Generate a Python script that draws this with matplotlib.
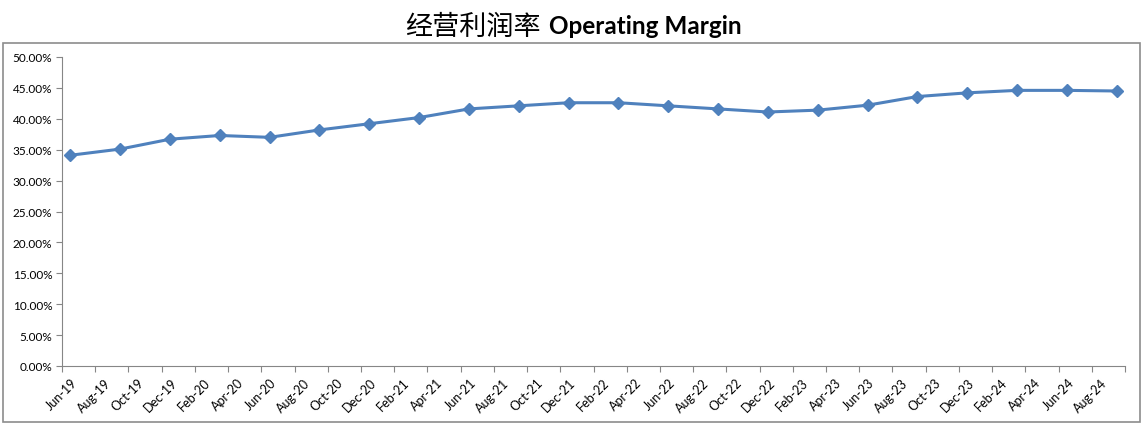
import matplotlib.pyplot as plt
import matplotlib.transforms as mtransforms
from matplotlib.patches import Rectangle

# quarterly operating margin (%), Jun-19 .. Sep-24
quarters = ['Jun-19', 'Sep-19', 'Dec-19', 'Mar-20', 'Jun-20', 'Sep-20', 'Dec-20', 'Mar-21',
            'Jun-21', 'Sep-21', 'Dec-21', 'Mar-22', 'Jun-22', 'Sep-22', 'Dec-22', 'Mar-23',
            'Jun-23', 'Sep-23', 'Dec-23', 'Mar-24', 'Jun-24', 'Sep-24']
margin = [34.1, 35.1, 36.7, 37.3, 37.0, 38.2, 39.2, 40.2,
          41.6, 42.1, 42.6, 42.6, 42.1, 41.6, 41.1, 41.4,
          42.2, 43.6, 44.2, 44.6, 44.6, 44.5]

# x axis labels every 2 months
months = ['Jan', 'Feb', 'Mar', 'Apr', 'May', 'Jun', 'Jul', 'Aug', 'Sep', 'Oct', 'Nov', 'Dec']
tick_labels = []
for i in range(0, 64, 2):
    m = (5 + i) % 12
    yr = 19 + (5 + i) // 12
    tick_labels.append(f'{months[m]}-{yr}')

# month index of each quarter, centred in its month slot
def month_index(lbl):
    mon, yr = lbl.split('-')
    return (int(yr) - 19) * 12 + months.index(mon) - 5

x = [month_index(q) + 0.5 for q in quarters]

fig = plt.figure(figsize=(11.43, 4.27), dpi=100)
ax = fig.add_axes([62 / 1143, 60 / 427, (1125 - 62) / 1143, (367 - 58) / 427])

ax.plot(x, margin, color='#4F81BD', lw=2.2, marker='D', markersize=6, zorder=3)

ax.set_xlim(0, 64)
ax.set_ylim(0, 50)
ax.set_yticks(range(0, 51, 5))
ax.set_yticklabels([f'{v:.2f}%' for v in range(0, 51, 5)], fontsize=8.5, family='Lato')
ax.set_xticks(range(0, 65, 2))
ax.set_xticklabels([])

# rotated x labels drawn as text so they can be shifted like Excel's
offset = mtransforms.ScaledTranslation(9 / 100, -10 / 100, fig.dpi_scale_trans)
for i, lbl in enumerate(tick_labels):
    ax.text(2 * i, 0, lbl, rotation=45, ha='right', va='top', rotation_mode='anchor',
            fontsize=9, family='Lato', transform=ax.get_xaxis_transform() + offset,
            clip_on=False)

for s in ['top', 'right']:
    ax.spines[s].set_visible(False)
for s in ['left', 'bottom']:
    ax.spines[s].set_color('#868686')
ax.tick_params(axis='both', colors='#868686', labelcolor='black', length=4, width=0.8)
ax.tick_params(axis='y', pad=3)

# outer chart border
fig.patches.append(Rectangle((3 / 1143, 4 / 427), 1137 / 1143, 379 / 427,
                             transform=fig.transFigure, fill=False,
                             edgecolor='#8c8c8c', lw=1.2))

# title: Chinese part and bold English part
fig.text(541 / 1143, 1 - 27 / 427, '经营利润率', ha='right', va='center',
         fontsize=19.5, family='Noto Sans CJK SC')
fig.text(549 / 1143, 1 - 27 / 427, 'Operating Margin', ha='left', va='center',
         fontsize=17.5, fontweight='bold', family='Lato')

fig.savefig('out.png', dpi=100)
